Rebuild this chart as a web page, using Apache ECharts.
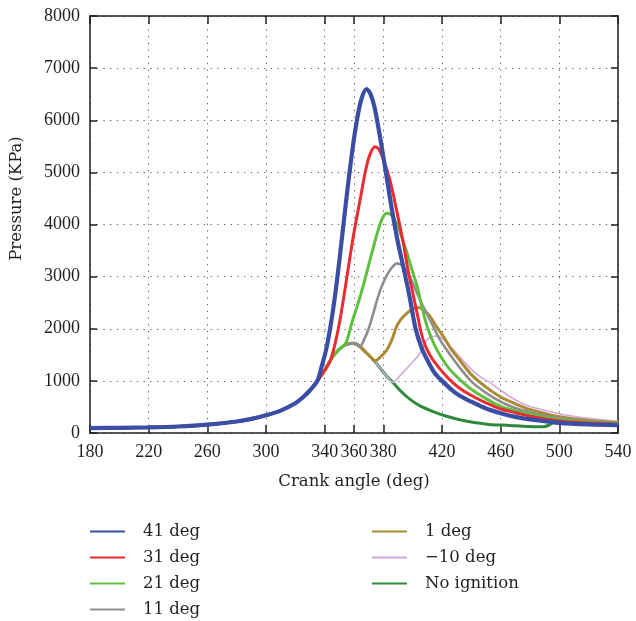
<!DOCTYPE html>
<html>
<head>
<meta charset="utf-8">
<script src="https://cdn.jsdelivr.net/npm/echarts@6/dist/echarts.min.js"></script>
<style>html,body{margin:0;padding:0;background:#fff;}#c{width:636px;height:621px;}</style>
</head>
<body>
<div id="c"></div>
<script>
// Tick labels
var xTicks = [180, 220, 260, 300, 340, 360, 380, 420, 460, 500, 540];
// Common compression stroke (shared by all curves)
var compression = [[180,95],[200,100],[220,108],[240,125],[260,160],[280,220],[290,270],[300,340],[310,430],[320,570],[325,680],[330,820],[335,1000]];
// No ignition (motored) after 335 deg
var noIgnition = [[340,1200],[345,1440],[350,1610],[355,1700],[360,1720],[364,1660],[368,1550],[372,1440],[374,1380],[377.7,1250],[382,1100],[386.5,970],[392,800],[398,650],[405,520],[414,410],[422,330],[432,255],[442,200],[452,165],[466,145],[478,125],[489,120],[493,150],[496,195],[500,190],[520,168],[540,155]];
var deg41 = [[335,1000],[338,1280],[341,1600],[344,2050],[347,2620],[350,3300],[353,4050],[356,4780],[359,5450],[362,6000],[365,6400],[368.5,6600],[371,6520],[374,6250],[377,5800],[380,5300],[383,4780],[386,4260],[390,3650],[394,3140],[398,2600],[402,2000],[406,1640],[410,1400],[415,1150],[420,1000],[427,820],[433,700],[440,600],[450,470],[460,380],[470,310],[480,260],[500,195],[520,165],[540,150]];
var deg31 = [[344,1400],[347,1700],[350,2100],[353,2600],[356,3150],[360,3850],[364,4450],[368,5050],[371,5350],[374.3,5490],[377,5440],[380,5250],[384.5,4850],[389,4280],[393.6,3645],[397,3100],[400,2700],[403,2300],[407,1800],[412,1480],[418,1250],[425,1030],[432,860],[440,720],[450,580],[460,460],[470,390],[480,320],[500,230],[520,190],[540,165]];
var deg21 = [[354,1705],[356,1850],[358.4,2100],[361,2330],[364,2600],[367,2900],[370,3220],[373,3540],[376,3850],[379,4100],[382.3,4215],[385.5,4180],[389,4030],[392,3800],[396,3470],[399,3180],[403,2820],[406,2450],[410,2030],[415,1680],[420,1430],[425,1230],[432,1030],[440,840],[450,660],[460,510],[470,430],[480,360],[500,255],[520,205],[540,175]];
var deg11 = [[364,1660],[367,1800],[370,2000],[373,2280],[376,2580],[379,2820],[382.3,3020],[386,3180],[389.5,3255],[393,3200],[398,3000],[404,2620],[408,2380],[412,2160],[418,1820],[423,1600],[430,1330],[440,990],[450,770],[460,600],[470,480],[480,400],[500,280],[520,220],[540,185]];
var deg1 = [[374,1380],[377,1430],[382.3,1590],[386,1800],[389,2040],[392,2180],[396,2296],[400,2380],[404,2410],[408,2350],[412,2230],[416,2050],[421,1850],[426,1620],[432,1400],[440,1120],[450,880],[460,690],[470,560],[480,450],[500,310],[520,240],[540,200]];
var degMinus10 = [[386.5,970],[392,1120],[398,1300],[405,1530],[409.5,1780],[413,1850],[416.4,1860],[420,1820],[426,1650],[432,1465],[440,1220],[446,1080],[452,980],[460,820],[466,700],[473,590],[480,510],[500,370],[520,280],[540,220]];

function withBase(own) {
  var start = own[0][0];
  return compression.concat(noIgnition.filter(function(p){ return p[0] < start; })).concat(own);
}

var seriesDefs = [
  {name: 'No ignition', data: compression.concat(noIgnition), color: '#2d8a3b', width: 3},
  {name: '\u221210 deg', data: withBase(degMinus10), color: '#cfa8da', width: 1.6},
  {name: '1 deg', data: withBase(deg1), color: '#ad8a32', width: 3},
  {name: '11 deg', data: withBase(deg11), color: '#8e8e8e', width: 2.6},
  {name: '21 deg', data: withBase(deg21), color: '#5fc040', width: 3},
  {name: '31 deg', data: withBase(deg31), color: '#ec2a2f', width: 3},
  {name: '41 deg', data: compression.concat(deg41), color: '#3b4ea6', width: 4.2}
];

var font = '"DejaVu Serif", "Liberation Serif", serif';
var tickFont = '"Liberation Serif", "DejaVu Serif", serif';
var fs = 16.5;
var tickFs = 18;
var ink = '#231f20';
var gridLine = {show: true, lineStyle: {color: '#555', width: 1, type: [1.2, 5.5]}};
var legendCommon = {
  orient: 'vertical', top: 523, padding: 0, itemWidth: 35, itemHeight: 14, itemGap: 9.0,
  icon: 'path://M0,0 L35,0 L35,2 L0,2 Z',
  textStyle: {fontFamily: font, fontSize: fs, color: ink, padding: [0, 0, 0, 13]}
};

var chart = echarts.init(document.getElementById('c'), null, {renderer: 'canvas'});
chart.setOption({
  animation: false,
  backgroundColor: '#fff',
  grid: {left: 90, right: 18, top: 16, bottom: 188, containLabel: false},
  xAxis: [{
    type: 'value', min: 180, max: 540, position: 'bottom',
    name: 'Crank angle (deg)', nameLocation: 'middle', nameGap: 40,
    nameTextStyle: {fontFamily: font, fontSize: fs, color: ink},
    axisLine: {show: true, onZero: false, lineStyle: {color: ink, width: 1.5}},
    axisTick: {show: true, inside: true, length: 8, customValues: xTicks, lineStyle: {color: ink, width: 1.5}},
    axisLabel: {customValues: xTicks, margin: 10, fontFamily: tickFont, fontSize: tickFs, color: ink},
    splitLine: gridLine
  }, {
    type: 'value', min: 180, max: 540, position: 'top',
    axisLine: {show: true, onZero: false, lineStyle: {color: ink, width: 1.5}},
    axisTick: {show: true, inside: true, length: 8, customValues: xTicks, lineStyle: {color: ink, width: 1.5}},
    axisLabel: {show: false},
    splitLine: {show: false}
  }],
  yAxis: [{
    type: 'value', min: 0, max: 8000, interval: 1000, position: 'left',
    name: 'Pressure (KPa)', nameLocation: 'middle', nameGap: 65, nameRotate: 90,
    nameTextStyle: {fontFamily: font, fontSize: fs, color: ink, padding: [0, 0, 0, 52]},
    axisLine: {show: true, onZero: false, lineStyle: {color: ink, width: 1.5}},
    axisTick: {show: true, inside: true, length: 7, lineStyle: {color: ink, width: 1.5}},
    axisLabel: {margin: 10, fontFamily: tickFont, fontSize: tickFs, color: ink, formatter: function (v) { return String(v); }},
    splitLine: gridLine
  }, {
    type: 'value', min: 0, max: 8000, interval: 1000, position: 'right',
    axisLine: {show: true, onZero: false, lineStyle: {color: ink, width: 1.5}},
    axisTick: {show: true, inside: true, length: 7, lineStyle: {color: ink, width: 1.5}},
    axisLabel: {show: false},
    splitLine: {show: false}
  }],
  legend: [
    Object.assign({data: ['41 deg', '31 deg', '21 deg', '11 deg'], left: 90}, legendCommon),
    Object.assign({data: ['1 deg', '\u221210 deg', 'No ignition'], left: 372}, legendCommon)
  ],
  series: seriesDefs.map(function (s) {
    return {
      name: s.name, type: 'line', data: s.data, xAxisIndex: 0, yAxisIndex: 0,
      symbol: 'none', smooth: 0.3,
      lineStyle: {color: s.color, width: s.width},
      itemStyle: {color: s.color}
    };
  })
});
</script>
</body>
</html>
